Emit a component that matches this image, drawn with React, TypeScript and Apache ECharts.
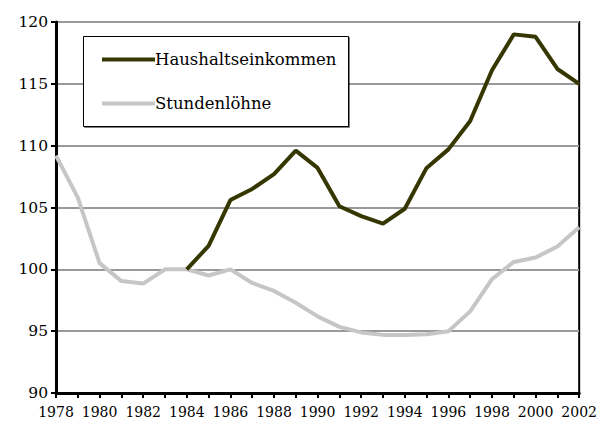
import React, { useEffect, useRef } from "react";
import * as echarts from "echarts";

const years: string[] = [
  "1978", "1979", "1980", "1981", "1982", "1983", "1984", "1985", "1986", "1987",
  "1988", "1989", "1990", "1991", "1992", "1993", "1994", "1995", "1996", "1997",
  "1998", "1999", "2000", "2001", "2002",
];

const haushaltseinkommen: (number | null)[] = [
  null, null, null, null, null, null, 100.0, 101.9, 105.6, 106.5,
  107.7, 109.6, 108.2, 105.1, 104.3, 103.7, 104.9, 108.2, 109.7, 112.0,
  116.1, 119.0, 118.8, 116.2, 115.0,
];

const stundenloehne: number[] = [
  109.2, 105.8, 100.5, 99.05, 98.85, 100.0, 100.0, 99.5, 100.0, 98.9,
  98.25, 97.3, 96.2, 95.35, 94.9, 94.7, 94.7, 94.75, 95.0, 96.6,
  99.2, 100.6, 100.95, 101.85, 103.4,
];

const seriesNames = ["Haushaltseinkommen", "Stundenlöhne"];
const seriesColors = ["#363600", "#c6c6c6"];

const FONT = "DejaVu Serif";

export default function App() {
  const ref = useRef<HTMLDivElement>(null);
  useEffect(() => {
    if (!ref.current) return;
    const chart = echarts.init(ref.current, null, { renderer: "svg" });
    chart.setOption({
      animation: false,
      backgroundColor: "#ffffff",
      textStyle: { fontFamily: FONT, color: "#000" },
      grid: {
        left: 56,
        top: 22,
        right: 19,
        bottom: 30,
        show: true,
        borderColor: "#000",
        borderWidth: 2,
      },
      graphic: [
        {
          type: "rect",
          left: 83,
          top: 36,
          shape: { width: 265, height: 90 },
          style: { fill: "#fff", stroke: "#000", lineWidth: 1, shadowColor: "rgba(0,0,0,0.5)", shadowOffsetX: 1, shadowOffsetY: 1 },
          z: 10,
        },
      ],
      legend: {
        orient: "vertical",
        left: 97,
        top: 46,
        itemGap: 27,
        itemWidth: 53,
        itemHeight: 18,
        data: seriesNames.map((n) => ({ name: n, icon: "path://M0,8 L53,8 L53,12 L0,12 Z" })),
        textStyle: { fontFamily: FONT, fontSize: 16.5, color: "#000", padding: [0, 0, 0, -5] },
        z: 20,
      },
      xAxis: {
        type: "category",
        data: years,
        boundaryGap: false,
        axisLine: { lineStyle: { color: "#000", width: 3 } },
        axisTick: { show: true, interval: 0, length: 5, lineStyle: { color: "#000", width: 2 } },
        axisLabel: { interval: 1, fontSize: 14, color: "#000", margin: 12, fontFamily: FONT },
        splitLine: { show: false },
      },
      yAxis: {
        type: "value",
        min: 90,
        max: 120,
        interval: 5,
        axisLine: { show: true, lineStyle: { color: "#000", width: 3 } },
        axisTick: { show: true, length: 5, lineStyle: { color: "#000", width: 2 } },
        axisLabel: { fontSize: 15.5, color: "#000", margin: 8, fontFamily: FONT },
        splitLine: { show: true, lineStyle: { color: "#999", width: 2 } },
      },
      series: [
        {
          name: seriesNames[0],
          type: "line",
          data: haushaltseinkommen,
          symbol: "none",
          lineStyle: { color: seriesColors[0], width: 4 },
          itemStyle: { color: seriesColors[0] },
          z: 3,
        },
        {
          name: seriesNames[1],
          type: "line",
          data: stundenloehne,
          symbol: "none",
          lineStyle: { color: seriesColors[1], width: 4 },
          itemStyle: { color: seriesColors[1] },
          z: 2,
        },
      ],
    });
    return () => chart.dispose();
  }, []);
  return <div ref={ref} style={{ width: 600, height: 423, position: "absolute", left: 0, top: 0 }} />;
}
